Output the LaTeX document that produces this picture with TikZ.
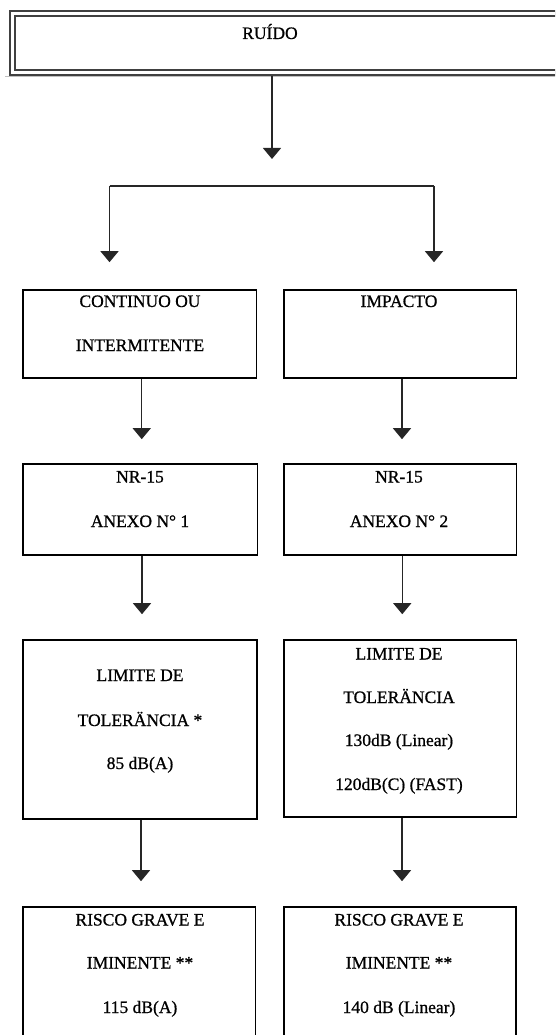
\documentclass[tikz,border=0pt]{standalone}
\usepackage{fontspec}
\setmainfont{Liberation Serif}
\newfontfamily\rfont{Liberation Serif}[FakeBold=0.8]
\usetikzlibrary{arrows.meta}
\begin{document}
\begin{tikzpicture}[x=1pt,y=-1pt,
  box/.style={draw=black, line width=1.6pt, rectangle, inner sep=0pt},
  txt/.style={font=\rfont\fontsize{17.5}{20}\selectfont, inner sep=0pt, text height=12pt, text depth=0pt},
  arr/.style={draw=black!85, line width=1.3pt, -{Triangle[width=18pt,length=11pt]}},
  ln/.style={draw=black!85, line width=1.3pt}]
\useasboundingbox (0,0) rectangle (555,1035);
\clip (0,0) rectangle (555,1035);

% top box (double border, runs past the right edge)
\draw[black!25, line width=1pt] (5,76.5) -- (560,76.5);
\node[draw=black!75, line width=2pt, double=white, double distance=3pt,
      rectangle, inner sep=0pt, minimum width=628pt, minimum height=58.5pt] (ruido) at (326,43.25) {};
\node[txt] (t0) at (270,33) {RUÍDO};

% boxes
\node[box, minimum width=233.5pt, minimum height=88pt] (b1l) at (139.75,334) {};
\node[box, minimum width=232.5pt, minimum height=88pt] (b1r) at (400.25,334) {};
\node[box, minimum width=234.5pt, minimum height=91pt] (b2l) at (140.25,509.5) {};
\node[box, minimum width=232.5pt, minimum height=91pt] (b2r) at (400.25,509.5) {};
\node[box, minimum width=234pt, minimum height=179pt] (b3l) at (140,729.5) {};
\node[box, minimum width=232.5pt, minimum height=177pt] (b3r) at (400.25,728.5) {};
\node[box, minimum width=232.5pt, minimum height=193pt] (b4l) at (139.25,1003.5) {};
\node[box, minimum width=232pt, minimum height=193pt] (b4r) at (400,1003.5) {};

% texts
\node[txt] (t1a) at (140,301) {CONTINUO OU};
\node[txt] (t1b) at (140,345) {INTERMITENTE};
\node[txt] (t1c) at (399,301) {IMPACTO};

\node[txt] (t2a) at (140,476.5) {NR-15};
\node[txt] (t2b) at (140,521) {ANEXO N° 1};
\node[txt] (t2c) at (399,476.5) {NR-15};
\node[txt] (t2d) at (399,521) {ANEXO N° 2};

\node[txt] (t3a) at (140,675) {LIMITE DE};
\node[txt] (t3b) at (140,720) {TOLERÄNCIA *};
\node[txt] (t3c) at (140,763) {85 dB(A)};
\node[txt] (t3d) at (399,653.5) {LIMITE DE};
\node[txt] (t3e) at (399,697) {TOLERÄNCIA};
\node[txt] (t3f) at (399,740) {130dB (Linear)};
\node[txt] (t3g) at (399,784) {120dB(C) (FAST)};

\node[txt] (t4a) at (140,919.5) {RISCO GRAVE E};
\node[txt] (t4b) at (140,962.5) {IMINENTE **};
\node[txt] (t4c) at (140,1007) {115 dB(A)};
\node[txt] (t4d) at (399,919.5) {RISCO GRAVE E};
\node[txt] (t4e) at (399,962.5) {IMINENTE **};
\node[txt] (t4f) at (399,1007) {140 dB (Linear)};

% connectors
\coordinate (a0) at (272,76);
\coordinate (a1) at (272,159);
\draw[arr] (a0) -- (a1);

\coordinate (spl) at (109.5,186);
\coordinate (spr) at (434,186);
\draw[ln] (spl) -- (spr);
\draw[arr, shorten >=27pt] (spl) -- (spl |- b1l.north);
\draw[arr, shorten >=27pt] (spr) -- (spr |- b1r.north);

\draw[arr, shorten >=24pt] ([xshift=2pt]b1l.south) -- ([xshift=2pt]b1l.south |- b2l.north);
\draw[arr, shorten >=24pt] ([xshift=1.75pt]b1r.south) -- ([xshift=1.75pt]b1r.south |- b2r.north);
\draw[arr, shorten >=25pt] ([xshift=1.75pt]b2l.south) -- ([xshift=1.75pt]b2l.south |- b3l.north);
\draw[arr, shorten >=25pt] ([xshift=2pt]b2r.south) -- ([xshift=2pt]b2r.south |- b3r.north);
\draw[arr, shorten >=25pt] ([xshift=1pt]b3l.south) -- ([xshift=1pt]b3l.south |- b4l.north);
\draw[arr, shorten >=25pt] ([xshift=1.75pt]b3r.south) -- ([xshift=1.75pt]b3r.south |- b4r.north);
\end{tikzpicture}
\end{document}
